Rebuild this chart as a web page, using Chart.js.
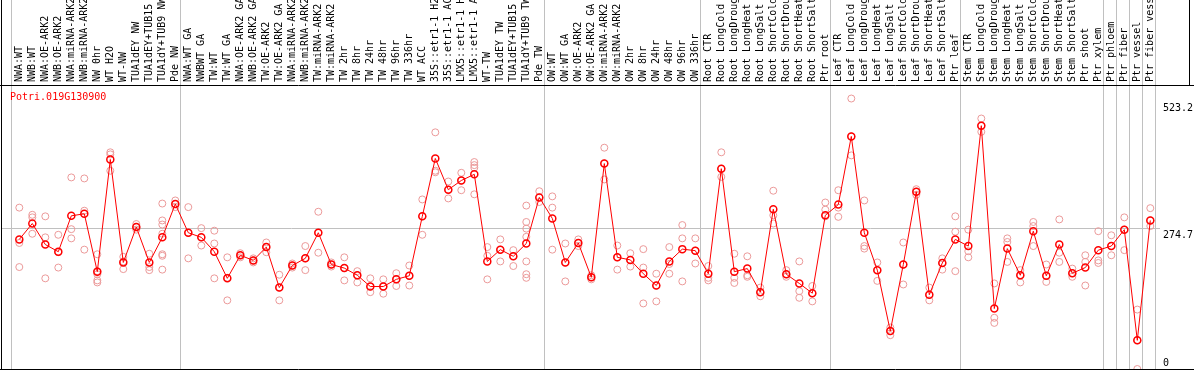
<!DOCTYPE html>
<html>
<head>
<meta charset="utf-8">
<script src="https://cdn.jsdelivr.net/npm/chart.js@4.4.1/dist/chart.umd.min.js"></script>
<style>
  html, body { margin: 0; padding: 0; background: #fff; }
  canvas { display: block; }
</style>
</head>
<body>
<canvas id="geneChart" width="1194" height="370"></canvas>
<script>
const geneName = 'Potri.019G130900';

const samples = [
    'NWA:WT', 'NWB:WT', 'NWA:OE-ARK2', 'NWB:OE-ARK2', 'NWA:miRNA-ARK2', 'NWB:miRNA-ARK2',
    'NW 0hr', 'WT H2O', 'WT-NW', 'TUA1dEY NW', 'TUA1dEY+TUB15 NW', 'TUA1dY+TUB9 NW', 'Pde NW',
    'NWA:WT GA', 'NWBWT GA', 'TW:WT', 'TW:WT GA', 'NWA:OE-ARK2 GA', 'NWB:OE-ARK2 GA',
    'TW:OE-ARK2', 'TW:OE-ARK2 GA', 'NWA:miRNA-ARK2', 'NWB:miRNA-ARK2', 'TW:miRNA-ARK2', 'TW:miRNA-ARK2',
    'TW 2hr', 'TW 8hr', 'TW 24hr', 'TW 48hr', 'TW 96hr', 'TW 336hr', 'WT ACC',
    '35S::etr1-1 H2O', '35S::etr1-1 ACC', 'LMX5::etr1-1 H2O', 'LMX5::etr1-1 ACC',
    'WT-TW', 'TUA1dEY TW', 'TUA1dEY+TUB15 TW', 'TUA1dY+TUB9 TW', 'Pde TW',
    'OW:WT', 'OW:WT GA', 'OW:OE-ARK2', 'OW:OE-ARK2 GA', 'OW:miRNA-ARK2', 'OW:miRNA-ARK2',
    'OW 2hr', 'OW 8hr', 'OW 24hr', 'OW 48hr', 'OW 96hr', 'OW 336hr',
    'Root CTR', 'Root LongCold', 'Root LongDrought', 'Root LongHeat', 'Root LongSalt',
    'Root ShortCold', 'Root ShortDrought', 'Root ShortHeat', 'Root ShortSalt', 'Ptr root',
    'Leaf CTR', 'Leaf LongCold', 'Leaf LongDrought', 'Leaf LongHeat', 'Leaf LongSalt',
    'Leaf ShortCold', 'Leaf ShortDrought', 'Leaf ShortHeat', 'Leaf ShortSalt', 'Ptr leaf',
    'Stem CTR', 'Stem LongCold', 'Stem LongDrought', 'Stem LongHeat', 'Stem LongSalt',
    'Stem ShortCold', 'Stem ShortDrought', 'Stem ShortHeat', 'Stem ShortSalt',
    'Ptr shoot', 'Ptr xylem', 'Ptr phloem', 'Ptr fiber', 'Ptr vessel', 'Ptr fiber vessel'
];

// mean expression per sample (red line)
const meanValues = [
    253, 284, 243, 229, 299, 303, 190, 409, 208, 277,
    208, 257, 322, 266, 257, 229, 177, 222, 212, 238,
    159, 202, 216, 266, 204, 197, 183, 161, 161, 175,
    182, 298, 411, 350, 368, 380, 210, 233, 220, 245,
    335, 294, 208, 246, 179, 401, 218, 213, 186, 163,
    210, 234, 231, 186, 391, 190, 196, 150, 312, 185,
    167, 148, 300, 321, 454, 266, 193, 74, 204, 346,
    145, 207, 253, 240, 475, 118, 235, 183, 269, 182,
    243, 187, 198, 232, 240, 272, 56, 290
];

// single replicates (pale circles)
const replicateValues = [
    [315, 246, 199], [301, 296, 264], [298, 257, 177], [262, 198, 228], [374, 273, 255],
    [372, 309, 233], [224, 191, 185, 173, 169], [423, 419, 387], [219, 195, 210], [283, 277, 272],
    [225, 199, 193], [323, 290, 282, 264, 224, 221, 194], [329, 322, 316], [316, 266, 216], [275, 257, 241],
    [270, 245, 177], [218, 178, 134], [226, 222, 218], [216, 208, 212], [247, 238, 228],
    [184, 159, 134], [206, 202, 198], [240, 216, 193], [307, 266, 227], [208, 204, 200],
    [218, 197, 173], [191, 183, 169], [177, 161, 150], [175, 161, 147], [187, 175, 162],
    [202, 182, 163], [331, 298, 262], [462, 387, 384], [366, 350, 333], [383, 368, 349],
    [404, 398, 393, 341], [238, 221, 175], [253, 233, 210], [232, 220, 201], [319, 287, 274, 258, 210, 185, 178],
    [347, 335, 326], [337, 315, 233], [245, 208, 171], [253, 246, 240], [183, 179, 175],
    [432, 401, 370], [241, 218, 194], [226, 213, 200], [234, 198, 128], [186, 163, 132],
    [238, 205, 186], [281, 255, 171], [255, 231, 206], [201, 178, 173], [423, 391, 375],
    [225, 178, 168], [220, 183, 180], [159, 150, 142], [348, 300, 284], [193, 185, 180],
    [210, 152, 139], [162, 148, 132], [325, 311, 298], [349, 315, 297], [528, 454, 417],
    [329, 240, 235], [208, 193, 172], [81, 74, 66], [247, 204, 165], [351, 346, 340],
    [159, 145, 134], [216, 207, 194], [298, 268, 191], [272, 230, 218], [489, 475, 463],
    [167, 100, 90], [255, 248, 209], [193, 183, 169], [287, 279, 240], [204, 182, 170],
    [292, 227, 209], [196, 187, 180], [222, 209, 163], [269, 212, 207], [261, 240, 222],
    [296, 272, 232], [116, 56, 0], [314, 290, 279]
];

const yTicks = [0, 274.7, 523.2];

// index of the last sample of each group (a grey line follows it)
const groupEnds = [-1, 12, 40, 52, 62, 72, 83, 84, 85, 86, 87];

const monoFont = { family: 'DejaVu Sans Mono', size: 10 };

const meanPoints = meanValues.map((v, i) => ({ x: i, y: v }));
const repPoints = replicateValues.flatMap((reps, i) => reps.map(v => ({ x: i, y: v })));

const framePlugin = {
    id: 'frame',
    beforeDraw(chart) {
        const { ctx, chartArea, scales } = chart;
        ctx.save();
        ctx.fillStyle = '#fff';
        ctx.fillRect(0, 0, chart.width, chart.height);
        ctx.strokeStyle = '#c0c0c0';
        ctx.lineWidth = 1;
        groupEnds.forEach(i => {
            const x = Math.round(scales.x.getPixelForValue(i + 0.37)) + 0.5;
            ctx.beginPath();
            ctx.moveTo(x, 0);
            ctx.lineTo(x, chartArea.bottom);
            ctx.stroke();
        });
        ctx.restore();
    },
    afterDraw(chart) {
        const { ctx, chartArea, scales } = chart;
        ctx.save();
        ctx.strokeStyle = '#000';
        ctx.lineWidth = 1;
        ctx.beginPath();
        ctx.moveTo(1.5, 0);
        ctx.lineTo(1.5, chartArea.bottom + 0.5);
        ctx.moveTo(0, chartArea.bottom + 0.5);
        ctx.lineTo(chart.width, chartArea.bottom + 0.5);
        ctx.moveTo(0, chartArea.top + 0.5);
        ctx.lineTo(chart.width, chartArea.top + 0.5);
        ctx.moveTo(1189.5, 0);
        ctx.lineTo(1189.5, chartArea.top);
        ctx.stroke();

        ctx.font = '10px "DejaVu Sans Mono"';
        ctx.textBaseline = 'top';
        ctx.textAlign = 'left';
        ctx.fillStyle = '#ff0000';
        ctx.fillText(geneName, chartArea.left + 8, chartArea.top + 7);

        ctx.fillStyle = '#000';
        yTicks.forEach(v => {
            let y = scales.y.getPixelForValue(v) + 2;
            if (y + 11 > chartArea.bottom) y = chartArea.bottom - 11;
            ctx.fillText(String(v), chartArea.right + 3, y);
        });
        ctx.restore();
    }
};

new Chart(document.getElementById('geneChart'), {
    type: 'line',
    data: {
        datasets: [
            {
                label: 'mean',
                data: meanPoints,
                borderColor: '#ff0000',
                borderWidth: 1,
                pointRadius: 3.5,
                pointBorderWidth: 1.5,
                pointBorderColor: '#ff0000',
                pointBackgroundColor: 'rgba(0,0,0,0)',
                tension: 0,
                order: 0
            },
            {
                label: 'replicates',
                data: repPoints,
                showLine: false,
                pointRadius: 3.5,
                pointBorderWidth: 1,
                pointBorderColor: '#ec9a9a',
                pointBackgroundColor: 'rgba(0,0,0,0)',
                order: 1
            }
        ]
    },
    options: {
        responsive: false,
        animation: false,
        layout: { autoPadding: false, padding: { left: 2, right: 0, top: 0, bottom: 1 } },
        plugins: {
            legend: { display: false },
            tooltip: { enabled: false }
        },
        scales: {
            x: {
                type: 'linear',
                position: 'top',
                min: -1.331,
                max: 87.746,
                afterBuildTicks: scale => { scale.ticks = samples.map((s, i) => ({ value: i })); },
                afterFit: scale => {
                    scale.height = 85;
                    scale.paddingLeft = 0;
                    scale.paddingRight = 0;
                },
                ticks: {
                    autoSkip: false,
                    minRotation: 90,
                    maxRotation: 90,
                    padding: 3,
                    labelOffset: 12,
                    color: '#000',
                    font: monoFont,
                    callback: v => samples[v]
                },
                grid: { display: false, drawTicks: false },
                border: { display: false }
            },
            y: {
                type: 'linear',
                position: 'right',
                min: 0,
                max: 554.4,
                afterBuildTicks: scale => { scale.ticks = yTicks.map(v => ({ value: v })); },
                afterFit: scale => { scale.width = 34; },
                ticks: { display: false },
                grid: {
                    drawTicks: false,
                    color: c => (c.tick && c.tick.value === 274.7 ? '#c0c0c0' : 'rgba(0,0,0,0)')
                },
                border: { display: false }
            }
        }
    },
    plugins: [framePlugin]
});
</script>
</body>
</html>
